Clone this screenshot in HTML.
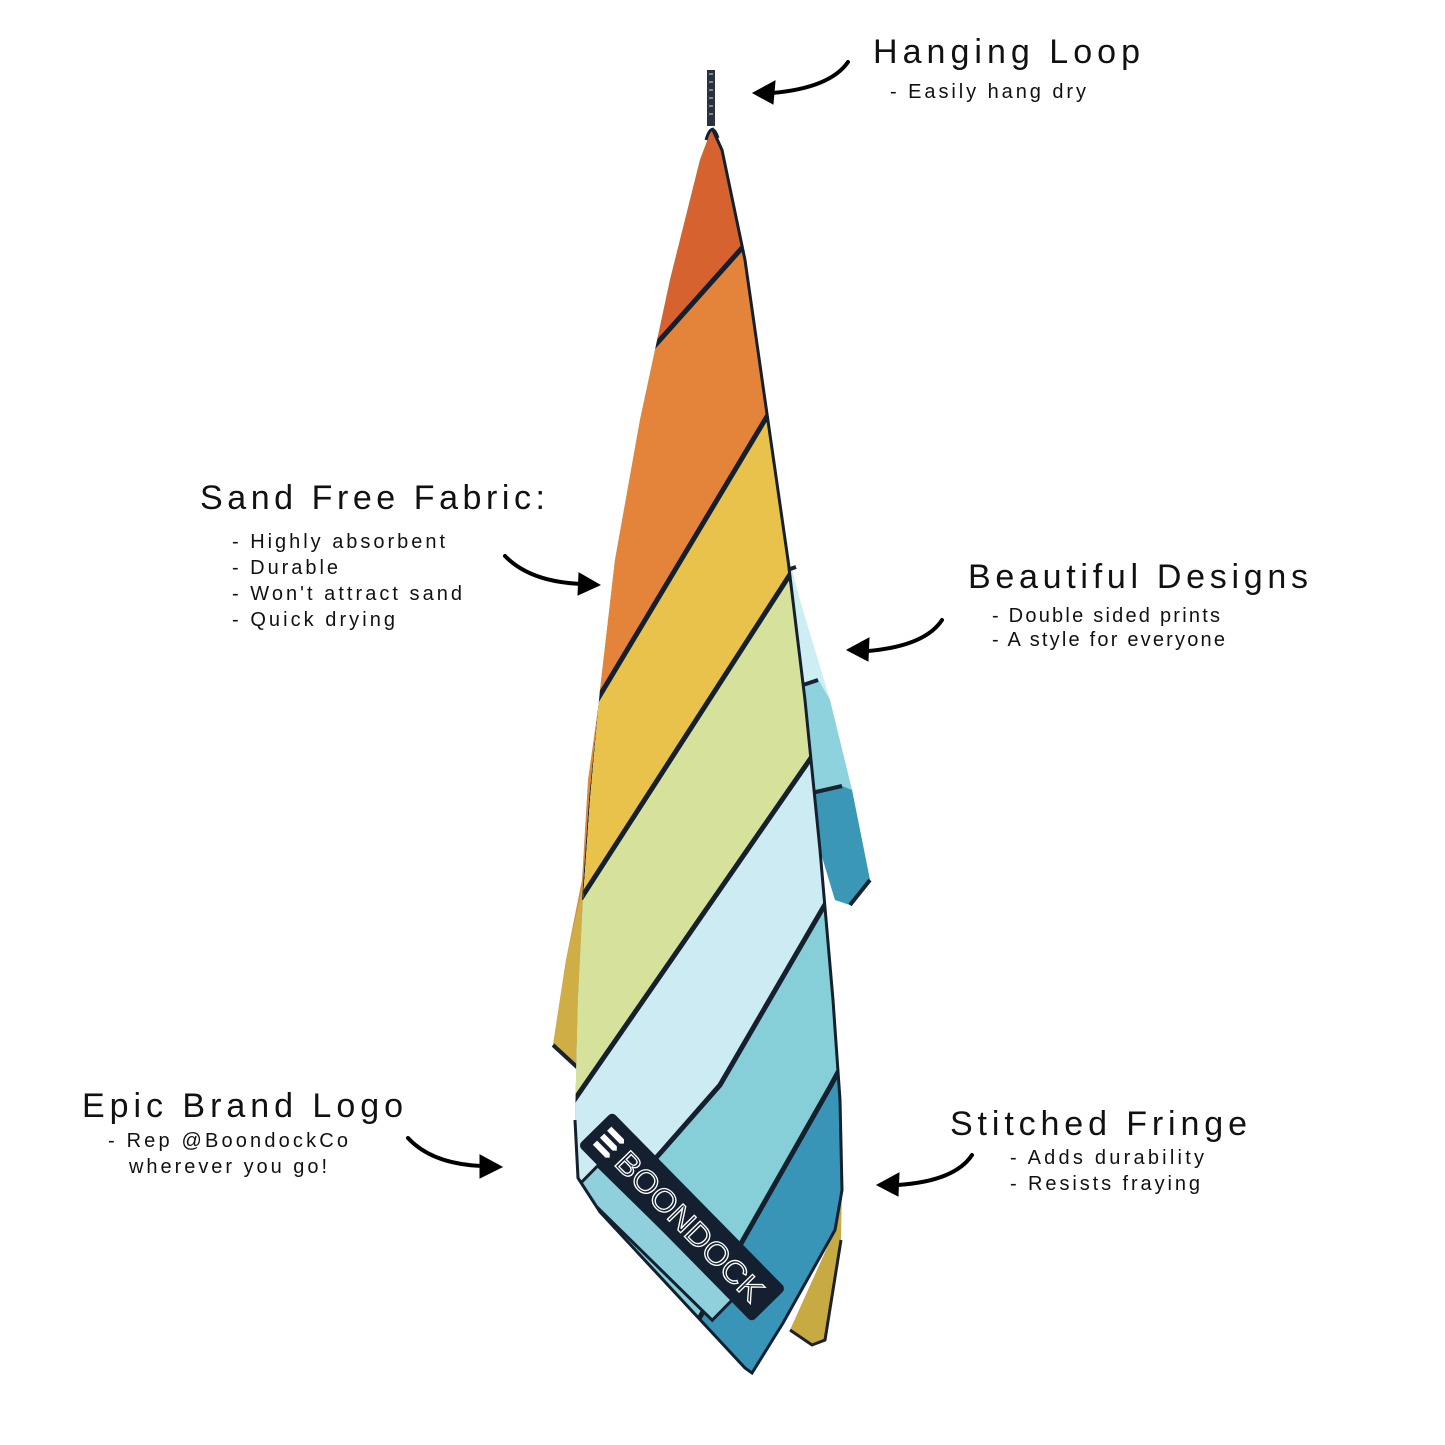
<!DOCTYPE html>
<html><head><meta charset="utf-8"><style>
html,body{margin:0;padding:0;background:#fff;}
svg{display:block;}
text{font-family:"Liberation Sans","DejaVu Sans",sans-serif;fill:#111;}
.h{font-size:34px;}
.s{font-size:20px;}
</style></head><body>
<svg width="1445" height="1445" viewBox="0 0 1445 1445" xmlns="http://www.w3.org/2000/svg">
<defs>
<clipPath id="front">
<path d="M712,128 L722,150 L745,260 L765,400 L788,560 L805,700 L820,850 L833,1000 L840,1100 L842,1190 L835,1230 L783,1323 L752,1373 L745,1368 L600,1212 L578,1178 L575,1120 L578,1000 L583,900 L590,800 L600,690 L615,560 L640,420 L670,280 L700,160 Z"/>
</clipPath>
</defs>
<rect width="1445" height="1445" fill="#fff"/>

<!-- loop -->
<rect x="707" y="70" width="8" height="56" fill="#2a3040"/>
<path d="M709,74 L713,74 M709,82 L713,82 M709,90 L713,90 M709,98 L713,98 M709,106 L713,106 M709,114 L713,114" stroke="#9aa" stroke-width="1.5"/>

<!-- back layer left: orange and yellow flap -->
<path d="M602,680 L588,780 L582,880 L566,960 L553,1045 L578,1068 L585,900 Z" fill="#d98a3a"/>
<path d="M584,880 L566,960 L553,1045 L578,1068 L583,1000 Z" fill="#cfae45"/>
<path d="M553,1045 L578,1068" stroke="#1a2230" stroke-width="4" fill="none"/>
<path d="M600,700 L590,800 L583,900" stroke="#1a2230" stroke-width="2" fill="none"/>

<!-- back right flap -->
<path d="M786,545 L800,600 L830,700 L852,790 L870,880 L850,905 L835,900 L820,850 L805,700 Z" fill="#cdeef3"/>
<path d="M798,684 L818,679 L830,700 L852,790 L870,880 L850,905 L835,900 L820,850 L805,700 Z" fill="#8dd2dc"/>
<path d="M806,794 L842,786 L852,790 L870,880 L850,905 L835,900 L820,850 Z" fill="#3a97b6"/>
<path d="M787,570 L796,567 M800,686 L818,680 M807,794 L842,786" stroke="#1a2230" stroke-width="4"/>
<path d="M870,880 L850,905" stroke="#1a2230" stroke-width="4"/>
<!-- back bottom yellow corner -->
<path d="M842,1185 L841,1240 L825,1340 L812,1345 L790,1330 L835,1230 Z" fill="#c8aa42"/>
<path d="M841,1240 L825,1340 L812,1345 L790,1330" stroke="#1a2230" stroke-width="3" fill="none"/>

<!-- front panel -->
<g clip-path="url(#front)">
<rect x="500" y="100" width="400" height="1300" fill="#3895b8"/>
<path d="M0,0 L1445,0 L850,1050 L830,1087 L743,1240 L690,1335 L0,1445 Z" fill="#86cfd9"/>
<path d="M0,0 L1445,0 L850,862 L820,913 L720,1085 L663,1150 L560,1265 L0,1445 Z" fill="#cdebf2"/>
<path d="M0,0 L1445,0 L840,716 L530,1164 L0,1445 Z" fill="#d6e29c"/>
<path d="M0,0 L1445,0 L840,497 L540,962 L0,1200 Z" fill="#e9c24b"/>
<path d="M0,0 L1445,0 L820,328 L560,762 L0,1000 Z" fill="#e3843a"/>
<path d="M0,0 L1445,0 L800,183 L600,407 L0,600 Z" fill="#d6632f"/>
<g stroke="#14202e" stroke-width="5" fill="none">
<path d="M600,407 L800,183"/>
<path d="M560,762 L820,328"/>
<path d="M540,962 L840,497"/>
<path d="M530,1164 L840,716"/>
<path d="M560,1265 L663,1150 L720,1085 L820,913 L850,862"/>
<path d="M690,1335 L743,1240 L830,1087 L850,1050"/>
</g>
<!-- strip under logo -->
<g transform="translate(655,1243) rotate(44.5)">
<rect x="-95" y="-15" width="190" height="30" fill="#8fd0dc" stroke="#14202e" stroke-width="3"/>
</g>
<!-- logo -->
<g transform="translate(682,1217) rotate(45.5)">
<rect x="-124" y="-24" width="248" height="48" rx="5" fill="#142030"/>
<g fill="#fff">
<path d="M-114,-13 L-96,-13 L-93,-10 L-96,-7 L-114,-7 Z"/>
<path d="M-114,-3 L-96,-3 L-93,0 L-96,3 L-114,3 Z"/>
<path d="M-114,7 L-96,7 L-93,10 L-96,13 L-114,13 Z"/>
</g>
<text x="-86" y="12" font-size="32" textLength="196" lengthAdjust="spacingAndGlyphs" style="fill:none;stroke:#fff;stroke-width:1.3;font-weight:normal;">BOONDOCK</text>
</g>
</g>
<path d="M712,128 L722,150 L745,260 L765,400 L788,560 L805,700 L820,850 L833,1000 L840,1100 L842,1190 L835,1230 L783,1323 L752,1373 L745,1368 L600,1212 L578,1178 L575,1120" fill="none" stroke="#14202e" stroke-width="3"/>
<path d="M706,140 Q712,120 718,138" fill="none" stroke="#14202e" stroke-width="3"/>

<!-- arrows -->
<g fill="#000" stroke="#000">
<path d="M848,62 Q830,88 772,93" fill="none" stroke-width="4" stroke-linecap="round"/>
<path d="M753,93 L775,81 L773,104 Z" stroke-width="1"/>

<path d="M505,556 Q530,582 582,584" fill="none" stroke-width="4" stroke-linecap="round"/>
<path d="M600,585 L579,573 L578,595 Z" stroke-width="1"/>

<path d="M942,620 Q925,646 868,651" fill="none" stroke-width="4" stroke-linecap="round"/>
<path d="M847,650 L869,638 L868,661 Z" stroke-width="1"/>

<path d="M408,1138 Q432,1164 482,1166" fill="none" stroke-width="4" stroke-linecap="round"/>
<path d="M502,1167 L480,1155 L480,1178 Z" stroke-width="1"/>

<path d="M972,1155 Q955,1181 898,1185" fill="none" stroke-width="4" stroke-linecap="round"/>
<path d="M877,1185 L899,1173 L898,1196 Z" stroke-width="1"/>
</g>

<!-- labels -->
<text class="h" x="873" y="63" textLength="267" lengthAdjust="spacing">Hanging Loop</text>
<text class="s" x="890" y="98" textLength="196" lengthAdjust="spacing">- Easily hang dry</text>

<text class="h" x="200" y="509" textLength="345" lengthAdjust="spacing">Sand Free Fabric:</text>
<text class="s" x="232" y="548" textLength="213" lengthAdjust="spacing">- Highly absorbent</text>
<text class="s" x="232" y="574" textLength="106" lengthAdjust="spacing">- Durable</text>
<text class="s" x="232" y="600" textLength="230" lengthAdjust="spacing">- Won't attract sand</text>
<text class="s" x="232" y="626" textLength="163" lengthAdjust="spacing">- Quick drying</text>

<text class="h" x="968" y="588" textLength="340" lengthAdjust="spacing">Beautiful Designs</text>
<text class="s" x="992" y="622" textLength="228" lengthAdjust="spacing">- Double sided prints</text>
<text class="s" x="992" y="646" textLength="233" lengthAdjust="spacing">- A style for everyone</text>

<text class="h" x="82" y="1117" textLength="321" lengthAdjust="spacing">Epic Brand Logo</text>
<text class="s" x="108" y="1147" textLength="240" lengthAdjust="spacing">- Rep @BoondockCo</text>
<text class="s" x="129" y="1173" textLength="198" lengthAdjust="spacing">wherever you go!</text>

<text class="h" x="950" y="1135" textLength="297" lengthAdjust="spacing">Stitched Fringe</text>
<text class="s" x="1010" y="1164" textLength="194" lengthAdjust="spacing">- Adds durability</text>
<text class="s" x="1010" y="1190" textLength="190" lengthAdjust="spacing">- Resists fraying</text>
</svg>
</body></html>
